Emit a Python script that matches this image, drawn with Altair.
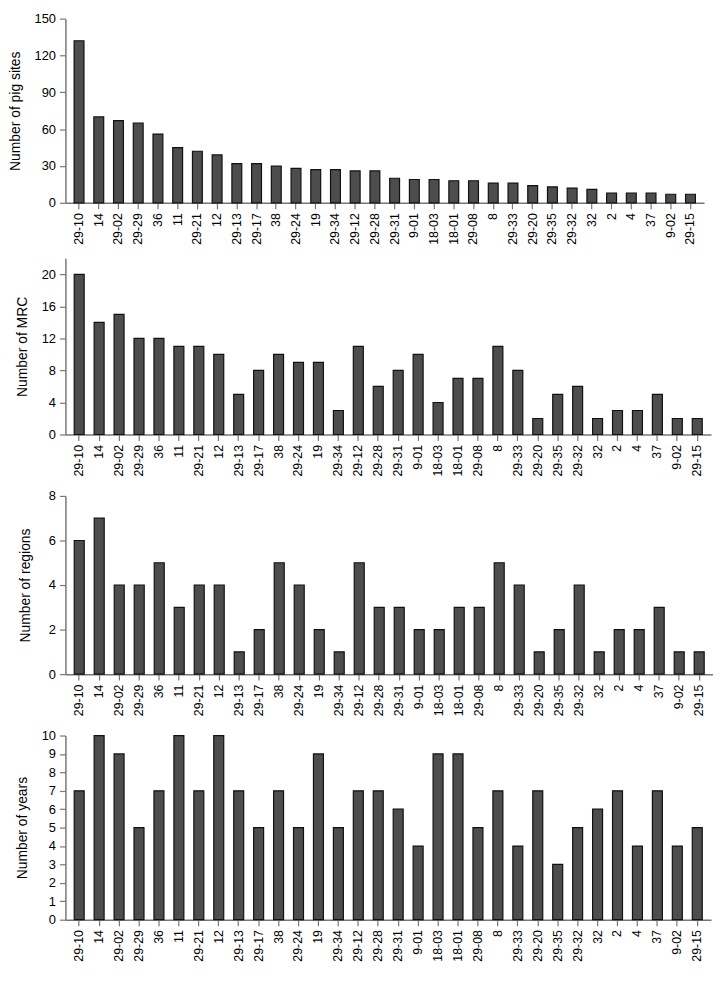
import altair as alt
import pandas as pd

sites = ["29-10", "14", "29-02", "29-29", "36", "11", "29-21", "12", "29-13", "29-17",
         "38", "29-24", "19", "29-34", "29-12", "29-28", "29-31", "9-01", "18-03", "18-01",
         "29-08", "8", "29-33", "29-20", "29-35", "29-32", "32", "2", "4", "37", "9-02", "29-15"]
pig_sites = [132, 70, 67, 65, 56, 45, 42, 39, 32, 32, 30, 28, 27, 27, 26, 26, 20, 19, 19, 18,
             18, 16, 16, 14, 13, 12, 11, 8, 8, 8, 7, 7]
mrc = [20, 14, 15, 12, 12, 11, 11, 10, 5, 8, 10, 9, 9, 3, 11, 6, 8, 10, 4, 7,
       7, 11, 8, 2, 5, 6, 2, 3, 3, 5, 2, 2]
regions = [6, 7, 4, 4, 5, 3, 4, 4, 1, 2, 5, 4, 2, 1, 5, 3, 3, 2, 2, 3,
           3, 5, 4, 1, 2, 4, 1, 2, 2, 3, 1, 1]
years = [7, 10, 9, 5, 7, 10, 7, 10, 7, 5, 7, 5, 9, 5, 7, 7, 6, 4, 9, 9,
         5, 7, 4, 7, 3, 5, 6, 7, 4, 7, 4, 5]

df = pd.DataFrame({"site": sites, "pig": pig_sites, "mrc": mrc,
                   "regions": regions, "years": years})

FONT = "Liberation Sans"
AX = "#777777"


def panel(field, title, domain, ticks, width, height, tp):
    return alt.Chart(df).mark_bar(
        fill="#4d4d4d", stroke="#111111", strokeWidth=1.2
    ).encode(
        x=alt.X("site:N", sort=sites,
                scale=alt.Scale(paddingInner=0.5, paddingOuter=0.44),
                axis=alt.Axis(title=None, labelAngle=-90, labelPadding=4,
                              tickSize=6, labelFontSize=12.5)),
        y=alt.Y(f"{field}:Q",
                scale=alt.Scale(domain=domain, nice=False, zero=True),
                axis=alt.Axis(values=ticks, title=title, titlePadding=tp,
                              tickSize=6, labelPadding=4, labelFontSize=13)),
    ).properties(width=width, height=height)


p1 = panel("pig", "Number of pig sites", [0, 150], [0, 30, 60, 90, 120, 150], 645, 186, 12)
p2 = panel("mrc", "Number of MRC", [0, 22], [0, 4, 8, 12, 16, 20], 652, 178, 12)
p3 = panel("regions", "Number of regions", [0, 8], [0, 2, 4, 6, 8], 654, 180, 16)
p4 = panel("years", "Number of years", [0, 10], list(range(0, 11)), 652, 186, 12)

chart = alt.vconcat(p1, p2, p3, p4, spacing=14).properties(
    padding=0
).configure_view(stroke=None).configure_axis(
    grid=False,
    domainColor=AX, domainWidth=1.5,
    tickColor=AX, tickWidth=1.2,
    labelFont=FONT, labelColor="black",
    titleFont=FONT, titleFontSize=14, titleFontWeight="normal", titleColor="black",
).configure_concat(spacing=14)

chart.save("out.html", embed_options={"renderer": "svg", "actions": False})
